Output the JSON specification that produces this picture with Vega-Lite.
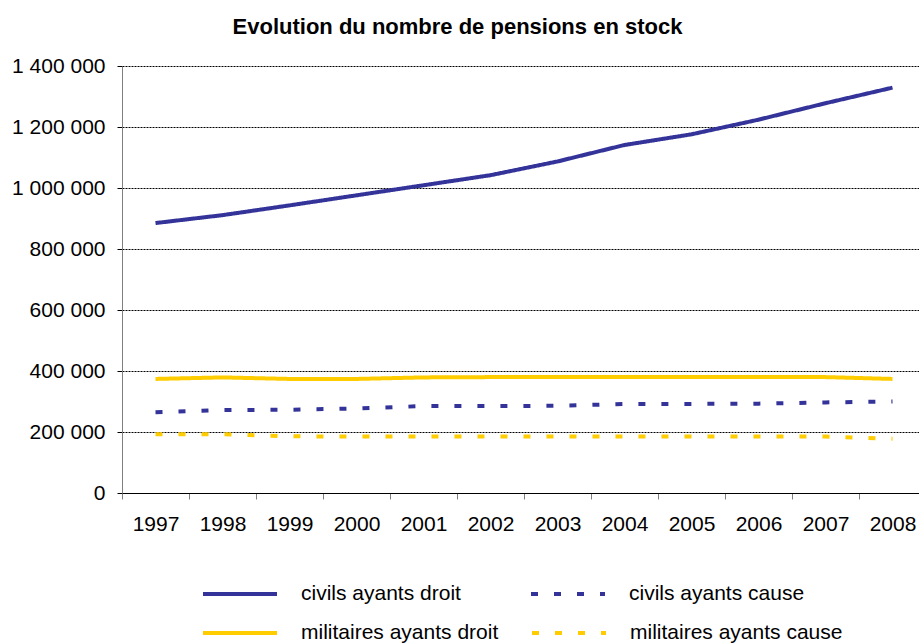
{
  "$schema": "https://vega.github.io/schema/vega-lite/v6.json",
  "autosize": {"type": "none"},
  "width": 797,
  "height": 427,
  "padding": {"left": 122, "top": 66, "right": 0, "bottom": 151},
  "background": "white",
  "config": {
    "view": {"stroke": null},
    "font": "Liberation Sans",
    "legend": {
      "title": null,
      "orient": "none",
      "direction": "horizontal",
      "symbolType": "M-1,0L1,0",
      "symbolSize": 5476,
      "symbolStrokeWidth": 4,
      "labelFont": "Liberation Sans",
      "labelFontSize": 21,
      "labelColor": "#000000",
      "labelOffset": 22,
      "labelLimit": 400
    }
  },
  "title": {
    "text": "Evolution du nombre de pensions en stock",
    "font": "Liberation Sans",
    "fontSize": 22,
    "fontWeight": "bold",
    "color": "#000000",
    "anchor": "middle",
    "dx": -63,
    "offset": 16
  },
  "data": {
    "values": [
      {"annee": "1997", "serie": "civils ayants droit", "valeur": 885000},
      {"annee": "1998", "serie": "civils ayants droit", "valeur": 911000},
      {"annee": "1999", "serie": "civils ayants droit", "valeur": 943000},
      {"annee": "2000", "serie": "civils ayants droit", "valeur": 976000},
      {"annee": "2001", "serie": "civils ayants droit", "valeur": 1009000},
      {"annee": "2002", "serie": "civils ayants droit", "valeur": 1042000},
      {"annee": "2003", "serie": "civils ayants droit", "valeur": 1087000},
      {"annee": "2004", "serie": "civils ayants droit", "valeur": 1141000},
      {"annee": "2005", "serie": "civils ayants droit", "valeur": 1176000},
      {"annee": "2006", "serie": "civils ayants droit", "valeur": 1224000},
      {"annee": "2007", "serie": "civils ayants droit", "valeur": 1278000},
      {"annee": "2008", "serie": "civils ayants droit", "valeur": 1329000},
      {"annee": "1997", "serie": "civils ayants cause", "valeur": 265000},
      {"annee": "1998", "serie": "civils ayants cause", "valeur": 272000},
      {"annee": "1999", "serie": "civils ayants cause", "valeur": 273000},
      {"annee": "2000", "serie": "civils ayants cause", "valeur": 277000},
      {"annee": "2001", "serie": "civils ayants cause", "valeur": 285000},
      {"annee": "2002", "serie": "civils ayants cause", "valeur": 285000},
      {"annee": "2003", "serie": "civils ayants cause", "valeur": 286000},
      {"annee": "2004", "serie": "civils ayants cause", "valeur": 292000},
      {"annee": "2005", "serie": "civils ayants cause", "valeur": 292000},
      {"annee": "2006", "serie": "civils ayants cause", "valeur": 293000},
      {"annee": "2007", "serie": "civils ayants cause", "valeur": 297000},
      {"annee": "2008", "serie": "civils ayants cause", "valeur": 300000},
      {"annee": "1997", "serie": "militaires ayants droit", "valeur": 374000},
      {"annee": "1998", "serie": "militaires ayants droit", "valeur": 379000},
      {"annee": "1999", "serie": "militaires ayants droit", "valeur": 374000},
      {"annee": "2000", "serie": "militaires ayants droit", "valeur": 374000},
      {"annee": "2001", "serie": "militaires ayants droit", "valeur": 379000},
      {"annee": "2002", "serie": "militaires ayants droit", "valeur": 380000},
      {"annee": "2003", "serie": "militaires ayants droit", "valeur": 380000},
      {"annee": "2004", "serie": "militaires ayants droit", "valeur": 380000},
      {"annee": "2005", "serie": "militaires ayants droit", "valeur": 380000},
      {"annee": "2006", "serie": "militaires ayants droit", "valeur": 380000},
      {"annee": "2007", "serie": "militaires ayants droit", "valeur": 380000},
      {"annee": "2008", "serie": "militaires ayants droit", "valeur": 374000},
      {"annee": "1997", "serie": "militaires ayants cause", "valeur": 193000},
      {"annee": "1998", "serie": "militaires ayants cause", "valeur": 193000},
      {"annee": "1999", "serie": "militaires ayants cause", "valeur": 186000},
      {"annee": "2000", "serie": "militaires ayants cause", "valeur": 185000},
      {"annee": "2001", "serie": "militaires ayants cause", "valeur": 185000},
      {"annee": "2002", "serie": "militaires ayants cause", "valeur": 185000},
      {"annee": "2003", "serie": "militaires ayants cause", "valeur": 185000},
      {"annee": "2004", "serie": "militaires ayants cause", "valeur": 185000},
      {"annee": "2005", "serie": "militaires ayants cause", "valeur": 185000},
      {"annee": "2006", "serie": "militaires ayants cause", "valeur": 185000},
      {"annee": "2007", "serie": "militaires ayants cause", "valeur": 185000},
      {"annee": "2008", "serie": "militaires ayants cause", "valeur": 178000}
    ]
  },
  "encoding": {
    "x": {
      "field": "annee",
      "type": "ordinal",
      "bandPosition": 0.5,
      "scale": {"type": "band", "range": [0, 804], "paddingInner": 0, "paddingOuter": 0},
      "axis": {
        "title": null,
        "labelAngle": 0,
        "labelFont": "Liberation Sans",
        "labelFontSize": 21,
        "labelColor": "#000000",
        "labelPadding": 14,
        "tickBand": "extent",
        "tickSize": 6,
        "tickColor": "#808080",
        "domainColor": "#000000",
        "domainWidth": 1,
        "grid": false
      }
    },
    "y": {
      "field": "valeur",
      "type": "quantitative",
      "scale": {"domain": [0, 1400000], "nice": false},
      "axis": {
        "title": null,
        "values": [0, 200000, 400000, 600000, 800000, 1000000, 1200000, 1400000],
        "labelExpr": "replace(replace(format(datum.value, ','), ',', ' '), ',', ' ')",
        "labelFont": "Liberation Sans",
        "labelFontSize": 21,
        "labelColor": "#000000",
        "labelPadding": 12,
        "tickSize": 5,
        "tickColor": "#000000",
        "domainColor": "#808080",
        "grid": true,
        "gridColor": "#000000",
        "gridDash": [2, 1],
        "gridWidth": 1
      }
    }
  },
  "layer": [
    {
      "transform": [{"filter": {"field": "serie", "oneOf": ["civils ayants droit", "civils ayants cause"]}}],
      "mark": {"type": "line", "strokeWidth": 4, "strokeCap": "butt", "clip": false},
      "encoding": {
        "color": {
          "field": "serie",
          "type": "nominal",
          "scale": {"domain": ["civils ayants droit", "civils ayants cause"], "range": ["#333399", "#333399"]},
          "legend": {"legendX": 79, "legendY": 489, "columnPadding": 62}
        },
        "strokeDash": {
          "field": "serie",
          "type": "nominal",
          "scale": {"domain": ["civils ayants droit", "civils ayants cause"], "range": [[1, 0], [7, 16]]}
        }
      }
    },
    {
      "transform": [{"filter": {"field": "serie", "oneOf": ["militaires ayants droit", "militaires ayants cause"]}}],
      "mark": {"type": "line", "strokeWidth": 4, "strokeCap": "butt", "clip": false},
      "encoding": {
        "color": {
          "field": "serie",
          "type": "nominal",
          "scale": {"domain": ["militaires ayants droit", "militaires ayants cause"], "range": ["#FFCC00", "#FFCC00"]},
          "legend": {"legendX": 79, "legendY": 528, "columnPadding": 25}
        },
        "strokeDash": {
          "field": "serie",
          "type": "nominal",
          "scale": {"domain": ["militaires ayants droit", "militaires ayants cause"], "range": [[1, 0], [7, 16]]}
        }
      }
    }
  ],
  "resolve": {"scale": {"color": "independent", "strokeDash": "independent"}}
}
